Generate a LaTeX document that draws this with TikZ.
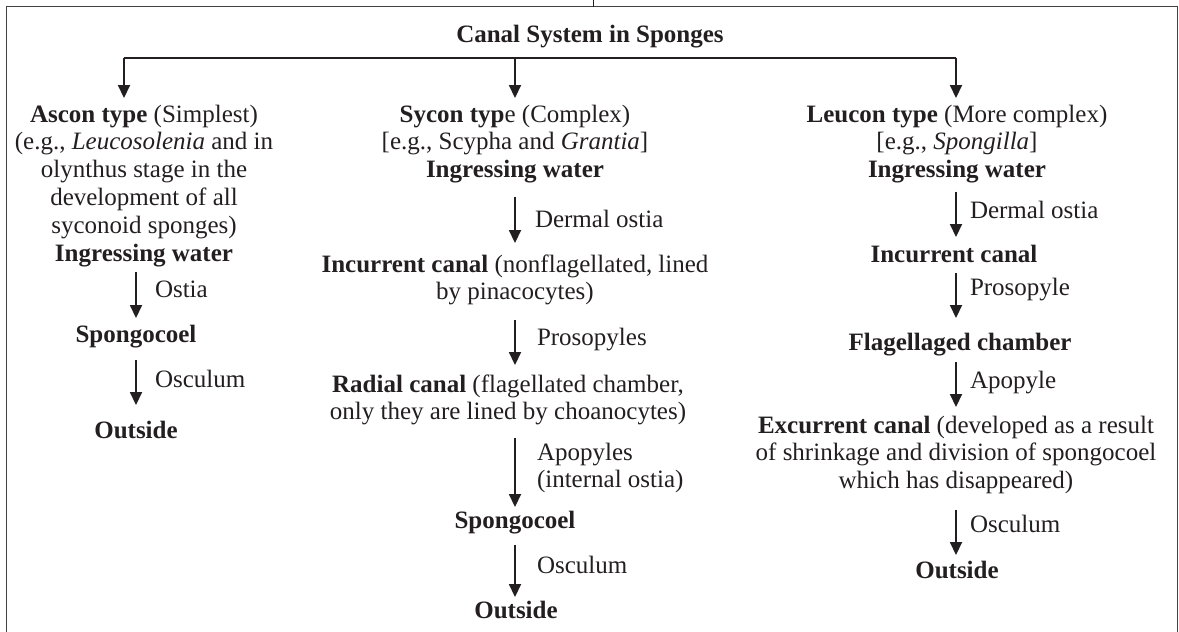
\documentclass[tikz,border=0pt]{standalone}
\usepackage{fontspec}
\setmainfont{Liberation Serif}
\usetikzlibrary{arrows.meta}
\definecolor{ink}{RGB}{35,31,32}
\begin{document}
\begin{tikzpicture}[x=1pt,y=-1pt,
  bodyfont/.style={font=\fontsize{25}{27.8}\selectfont},
  txt/.style={bodyfont, text=ink, inner sep=0pt, outer sep=0pt, align=center, anchor=north},
  lbl/.style={bodyfont, text=ink, inner sep=0pt, outer sep=0pt, anchor=base west},
  conn/.style={draw=ink, line width=1.8pt},
  arr/.style={conn, -{Triangle[width=12pt,length=13pt]}},
  frame/.style={draw=ink!85, line width=1.8pt}]
\useasboundingbox (0,0) rectangle (1179,632);
\clip (0,0) rectangle (1179,632);

% outer frame (open at the bottom edge of the page)
\draw[frame] (6.5,6.5) rectangle (1177.5,680);
\draw[draw=ink, line width=0.8pt] (593,0) -- (593,6.5);

% heading
\node[bodyfont, text=ink, font=\fontsize{25}{27.8}\selectfont\bfseries, inner sep=0pt, anchor=base] (title) at (590,42) {Canal System in Sponges};

% ---- Ascon column ----
\node[txt] (ascon) at (144,102.54) {\strut\textbf{Ascon type} (Simplest)\\(e.g., \textit{Leucosolenia} and in\\olynthus stage in the\\development of all\\syconoid sponges)\\\textbf{Ingressing water}\strut};
\node[txt] (sponA) at (136,322.54) {\strut\textbf{Spongocoel}\strut};
\node[txt] (outA) at (136,418.54) {\strut\textbf{Outside}\strut};

% ---- Sycon column ----
\node[txt] (sycon) at (515,102.54) {\strut\textbf{Sycon typ}e (Complex)\\{}[e.g., Scypha and \textit{Grantia}]\\\textbf{Ingressing water}\strut};
\node[txt] (incB) at (515,252.54) {\strut\textbf{Incurrent canal} (nonflagellated, lined\\by pinacocytes)\strut};
\node[txt] (radB) at (508,372.54) {\strut\textbf{Radial canal} (flagellated chamber,\\only they are lined by choanocytes)\strut};
\node[txt] (sponB) at (515,508.54) {\strut\textbf{Spongocoel}\strut};
\node[txt] (outB) at (516,598.54) {\strut\textbf{Outside}\strut};

% ---- Leucon column ----
\node[txt] (leucon) at (957,102.54) {\strut\textbf{Leucon type} (More complex)\\{}[e.g., \textit{Spongilla}]\\\textbf{Ingressing water}\strut};
\node[txt] (incC) at (954,242.54) {\strut\textbf{Incurrent canal}\strut};
\node[txt] (flagC) at (960,330.54) {\strut\textbf{Flagellaged chamber}\strut};
\node[txt] (excC) at (956,413.54) {\strut\textbf{Excurrent canal} (developed as a result\\of shrinkage and division of spongocoel\\which has disappeared)\strut};
\node[txt] (outC) at (957,558.54) {\strut\textbf{Outside}\strut};

% ---- branching from the heading ----
\coordinate (busL) at (124,58);
\coordinate (busR) at (956,58);
\draw[conn] (busL) -- (busR);
\draw[arr, shorten >=4.5pt] (busL) -- (ascon.north -| busL);
\draw[arr, shorten >=4.5pt] (busL -| sycon) -- (sycon.north);
\draw[arr, shorten >=4.5pt] (busR) -- (leucon.north -| busR);

% ---- Ascon flow ----
\draw[arr, shorten <=2.7pt, shorten >=4.5pt] (ascon.south -| sponA) -- (sponA.north);
\draw[arr, shorten <=9.7pt, shorten >=13.5pt] (sponA.south) -- (outA.north -| sponA);
\node[lbl] (lOstiaA) at (155,297) {Ostia};
\node[lbl] (lOscA) at (155,387) {Osculum};

% ---- Sycon flow ----
\draw[arr, shorten <=10.7pt, shorten >=9.5pt] (sycon.south) -- (incB.north);
\draw[arr, shorten <=11.7pt, shorten >=7.5pt] (incB.south) -- (radB.north -| incB);
\draw[arr, shorten <=9.7pt, shorten >=1.5pt] (radB.south -| sponB) -- (sponB.north);
\draw[arr, shorten <=8.7pt, shorten >=1.5pt] (sponB.south) -- (outB.north -| sponB);
\node[lbl] (lDermB) at (535,227) {Dermal ostia};
\node[lbl] (lProsB) at (537,345) {Prosopyles};
\node[lbl, anchor=north west, align=left] (lApoB) at (537,440.54) {\strut Apopyles\\(internal ostia)};
\node[lbl] (lOscB) at (537,573) {Osculum};

% ---- Leucon flow ----
\draw[arr, shorten <=5.7pt, shorten >=5.5pt] (leucon.south -| excC) -- (incC.north -| excC);
\draw[arr, shorten <=2.7pt, shorten >=12.5pt] (incC.south -| excC) -- (flagC.north -| excC);
\draw[arr, shorten <=3.7pt, shorten >=6.5pt] (flagC.south -| excC) -- (excC.north);
\draw[arr, shorten <=13.1pt, shorten >=3.5pt] (excC.south) -- (outC.north -| excC);
\node[lbl] (lDermC) at (970,218) {Dermal ostia};
\node[lbl] (lProsC) at (970,295) {Prosopyle};
\node[lbl] (lApoC) at (970,388) {Apopyle};
\node[lbl] (lOscC) at (970,532) {Osculum};
\end{tikzpicture}
\end{document}
